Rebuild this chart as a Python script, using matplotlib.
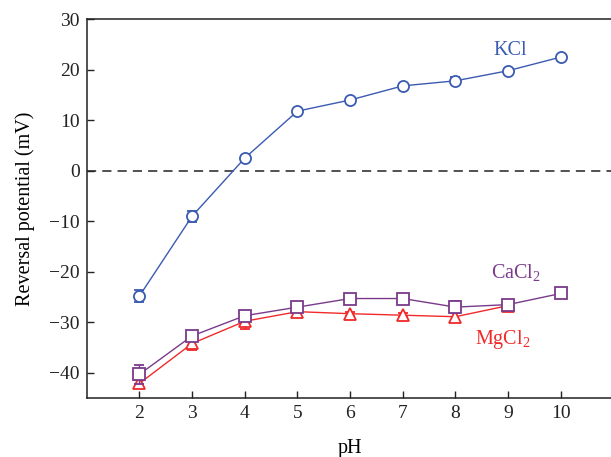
import matplotlib
matplotlib.use("Agg")
import matplotlib.pyplot as plt

plt.rcParams['font.family'] = ['Liberation Serif', 'DejaVu Serif']
plt.rcParams['mathtext.fontset'] = 'custom'
plt.rcParams['mathtext.rm'] = 'Liberation Serif'

ph = [2, 3, 4, 5, 6, 7, 8, 9, 10]
kcl = [-24.8, -9.0, 2.5, 11.8, 14.0, 16.8, 17.8, 19.8, 22.5]
kcl_err = [1.2, 1.1, 0.5, 0.4, 0.4, 0.4, 0.7, 0.4, 0.4]
cacl2 = [-40.3, -32.7, -28.7, -27.0, -25.3, -25.3, -27.0, -26.5, -24.3]
cacl2_err = [1.9, 0.6, 0.6, 0.5, 0.4, 0.4, 1.2, 0.5, 0.4]
ph_mg = [2, 3, 4, 5, 6, 7, 8, 9]
mgcl2 = [-42.1, -34.2, -29.8, -27.9, -28.3, -28.6, -28.9, -26.7]
mgcl2_err = [0.7, 1.3, 1.6, 0.6, 0.4, 0.4, 0.8, 0.4]

blue = '#3b5bb2'
purple = '#7a3a8a'
red = '#f02a2a'

fig = plt.figure(figsize=(6.11, 4.57), dpi=100)
ax = fig.add_axes([0.142, 0.129, 0.862, 0.829])

ax.axhline(0, color='#222222', lw=1.1, ls=(0, (6, 4)))

ax.errorbar(ph, kcl, yerr=kcl_err, color=blue, lw=1.0, marker='o', ms=8,
            mfc='white', mec=blue, mew=1.3, capsize=3.5, elinewidth=1.0, zorder=3)
ax.errorbar(ph_mg, mgcl2, yerr=mgcl2_err, color=red, lw=1.0, marker='^', ms=8.5,
            mfc='white', mec=red, mew=1.3, capsize=3.5, elinewidth=1.0, zorder=3)
ax.errorbar(ph, cacl2, yerr=cacl2_err, color=purple, lw=1.0, marker='s', ms=8.5,
            mfc='white', mec=purple, mew=1.3, capsize=3.5, elinewidth=1.0, zorder=4)

ax.text(9.05, 23.8, 'KCl', color=blue, fontsize=14.5, ha='center', va='center')
ax.text(9.15, -20.3, r'CaCl$_2$', color=purple, fontsize=14.5, ha='center', va='center')
ax.text(8.9, -33.5, r'MgCl$_2$', color=red, fontsize=14.5, ha='center', va='center')

ax.set_xlim(1, 11)
ax.set_ylim(-45, 30)
ax.set_xticks(ph)
ax.set_yticks([-40, -30, -20, -10, 0, 10, 20, 30])
ax.set_yticklabels(['\u221240', '\u221230', '\u221220', '\u221210', '0', '10', '20', '30'])
ax.tick_params(direction='in', length=5, width=1.0, labelsize=14, colors='#222222', pad=5)
ax.spines['right'].set_visible(False)
for s in ['left', 'top', 'bottom']:
    ax.spines[s].set_linewidth(1.1)
    ax.spines[s].set_color('#222222')

ax.set_xlabel('pH', fontsize=14.5, labelpad=12)
ax.set_ylabel('Reversal potential (mV)', fontsize=14.5, labelpad=10)

fig.savefig('out.png', dpi=100)
